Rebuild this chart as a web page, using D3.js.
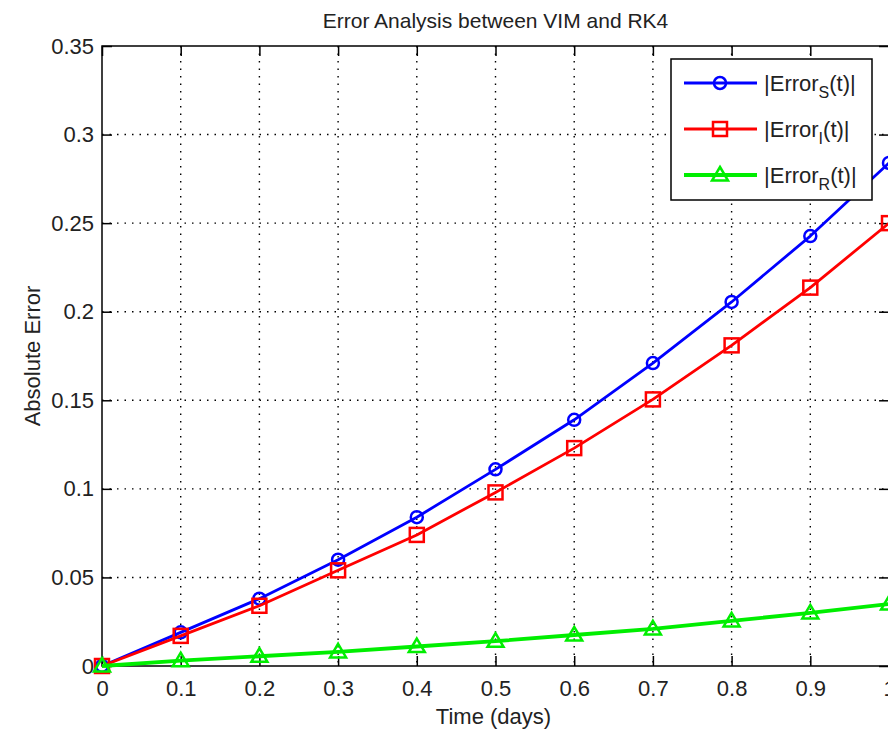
<!DOCTYPE html>
<html><head><meta charset="utf-8">
<script src="https://cdn.jsdelivr.net/npm/d3@7"></script>
<style>
html,body{margin:0;padding:0;background:#fff;}
svg{display:block;font-family:"Liberation Sans",Arial,sans-serif;}
</style></head>
<body>
<svg id="chart" width="888" height="732"></svg>
<script>
const times = [0, 0.1, 0.2, 0.3, 0.4, 0.5, 0.6, 0.7, 0.8, 0.9, 1.0];
const errorS = [0, 0.019, 0.038, 0.060, 0.084, 0.111, 0.139, 0.171, 0.2055, 0.2427, 0.284];
const errorI = [0, 0.017, 0.034, 0.054, 0.074, 0.098, 0.123, 0.1505, 0.181, 0.2136, 0.250];
const errorR = [0, 0.003, 0.0055, 0.008, 0.011, 0.014, 0.0175, 0.021, 0.0255, 0.030, 0.035];
const xTicks = [0, 0.1, 0.2, 0.3, 0.4, 0.5, 0.6, 0.7, 0.8, 0.9, 1];
const yTicks = [0, 0.05, 0.1, 0.15, 0.2, 0.25, 0.3, 0.35];
const seriesNames = ["S", "I", "R"];
const seriesColors = ["#0000ff", "#ff0000", "#00ee00"];
const seriesMarkers = ["circle", "square", "triangle"];

const svg = d3.select("#chart");
const L = 102, R = 889, T = 46, B = 666;
const x = d3.scaleLinear().domain([0, 1]).range([L, R]);
const y = d3.scaleLinear().domain([0, 0.35]).range([B, T]);
const FS = 22;
const TXT = "#222";

// grid
const grid = svg.append("g");
xTicks.forEach(t => {
  if (t === 0 || t === 1) return;
  grid.append("line").attr("x1", x(t)).attr("x2", x(t)).attr("y1", T).attr("y2", B)
    .attr("stroke", "#000").attr("stroke-width", 1.4).attr("stroke-dasharray", "1.5,6");
});
yTicks.forEach(t => {
  if (t === 0 || t === 0.35) return;
  grid.append("line").attr("x1", L).attr("x2", R).attr("y1", y(t)).attr("y2", y(t))
    .attr("stroke", "#000").attr("stroke-width", 1.4).attr("stroke-dasharray", "1.5,6");
});

// axes box
svg.append("rect").attr("x", L).attr("y", T).attr("width", R - L).attr("height", B - T)
  .attr("fill", "none").attr("stroke", "#000").attr("stroke-width", 1.5);

// axes via d3 with inward ticks
const xAxis = d3.axisBottom(x).tickValues(xTicks).tickSizeInner(-10).tickSizeOuter(0).tickPadding(14)
  .tickFormat(d => d3.format("")(d));
const gx = svg.append("g").attr("transform", `translate(0,${B})`).call(xAxis);
gx.select(".domain").remove();
gx.selectAll(".tick line").attr("stroke", "#000").attr("stroke-width", 1.5);
gx.selectAll("text").attr("font-size", FS).attr("fill", TXT).attr("font-family", "Liberation Sans, Arial, sans-serif");

const xAxisTop = d3.axisTop(x).tickValues(xTicks).tickSizeInner(-10).tickSizeOuter(0).tickFormat("");
const gxt = svg.append("g").attr("transform", `translate(0,${T})`).call(xAxisTop);
gxt.select(".domain").remove();
gxt.selectAll(".tick line").attr("stroke", "#000").attr("stroke-width", 1.5);

const yAxis = d3.axisLeft(y).tickValues(yTicks).tickSizeInner(-10).tickSizeOuter(0).tickPadding(8)
  .tickFormat(d => d3.format("")(d));
const gy = svg.append("g").attr("transform", `translate(${L},0)`).call(yAxis);
gy.select(".domain").remove();
gy.selectAll(".tick line").attr("stroke", "#000").attr("stroke-width", 1.5);
gy.selectAll("text").attr("font-size", FS).attr("fill", TXT).attr("font-family", "Liberation Sans, Arial, sans-serif");

const yAxisRight = d3.axisRight(y).tickValues(yTicks).tickSizeInner(-10).tickSizeOuter(0).tickFormat("");
const gyr = svg.append("g").attr("transform", `translate(${R},0)`).call(yAxisRight);
gyr.select(".domain").remove();
gyr.selectAll(".tick line").attr("stroke", "#000").attr("stroke-width", 1.5);

// labels
svg.append("text").attr("x", (L + R) / 2).attr("y", 28).attr("text-anchor", "middle")
  .attr("font-size", 21).attr("fill", TXT).text("Error Analysis between VIM and RK4");
svg.append("text").attr("x", (L + R) / 2 - 2).attr("y", 724).attr("text-anchor", "middle")
  .attr("font-size", FS).attr("fill", TXT).text("Time (days)");
svg.append("text").attr("transform", `translate(40,${(T + B) / 2}) rotate(-90)`).attr("text-anchor", "middle")
  .attr("font-size", FS).attr("fill", TXT).text("Absolute Error");

// markers
function drawMarker(g, type, cx, cy, color) {
  if (type === "circle") {
    g.append("circle").attr("cx", cx).attr("cy", cy).attr("r", 6)
      .attr("fill", "none").attr("stroke", color).attr("stroke-width", 2.5);
  } else if (type === "square") {
    g.append("rect").attr("x", cx - 7).attr("y", cy - 7).attr("width", 14).attr("height", 14)
      .attr("fill", "none").attr("stroke", color).attr("stroke-width", 2.5);
  } else {
    const s = 8;
    g.append("path").attr("d", `M${cx},${cy - s} L${cx + s},${cy + s * 0.7} L${cx - s},${cy + s * 0.7} Z`)
      .attr("fill", "none").attr("stroke", color).attr("stroke-width", 2.5);
  }
}

const allSeries = [errorS, errorI, errorR];
const widths = [2.8, 2.8, 3.8];
const line = d3.line().x((d, i) => x(times[i])).y(d => y(d));
allSeries.forEach((vals, k) => {
  const g = svg.append("g");
  g.append("path").datum(vals).attr("d", line).attr("fill", "none")
    .attr("stroke", seriesColors[k]).attr("stroke-width", widths[k]).attr("stroke-linejoin", "round");
  vals.forEach((v, i) => drawMarker(g, seriesMarkers[k], x(times[i]), y(v), seriesColors[k]));
});

// legend
const lg = svg.append("g");
lg.append("rect").attr("x", 671).attr("y", 59).attr("width", 201).attr("height", 141)
  .attr("fill", "#fff").attr("stroke", "#000").attr("stroke-width", 1.5);
const ly = [83, 129, 175];
seriesNames.forEach((n, k) => {
  lg.append("line").attr("x1", 684).attr("x2", 757).attr("y1", ly[k]).attr("y2", ly[k])
    .attr("stroke", seriesColors[k]).attr("stroke-width", widths[k]);
  drawMarker(lg, seriesMarkers[k], 720, ly[k], seriesColors[k]);
  const t = lg.append("text").attr("x", 764).attr("y", ly[k] + 8).attr("font-size", FS).attr("fill", TXT);
  t.append("tspan").text("|Error");
  t.append("tspan").attr("dy", 7).attr("font-size", 16).text(n);
  t.append("tspan").attr("dy", -7).text("(t)|");
});
</script>
</body></html>
